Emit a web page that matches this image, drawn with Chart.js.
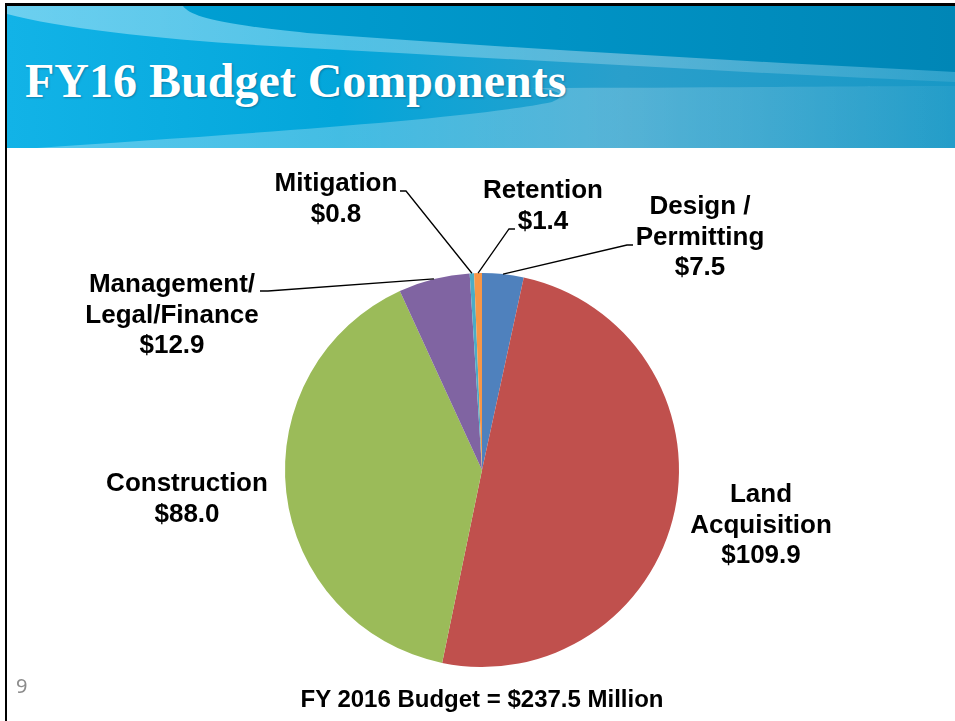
<!DOCTYPE html>
<html>
<head>
<meta charset="utf-8">
<script src="https://cdn.jsdelivr.net/npm/chart.js@4.4.1/dist/chart.umd.min.js"></script>
<style>
  html, body { margin: 0; padding: 0; background: #fff; }
  body { width: 955px; height: 721px; position: relative; overflow: hidden; }
  #frame { position: absolute; left: 5px; top: 3px; width: 960px; height: 730px;
           border-left: 2px solid #000; border-top: 3px solid #000; }
  #header { position: absolute; left: 7px; top: 6px; }
  #title { position: absolute; left: 25px; top: 57px; font: bold 48px "Liberation Serif", "Times New Roman", serif;
           color: #fff; line-height: 48px; white-space: nowrap; text-shadow: 1px 1px 2px rgba(0,40,70,0.35); }
  #chart { position: absolute; left: 0; top: 0; }
  #caption { position: absolute; left: 0; width: 964px; top: 687px; text-align: center;
             font: bold 24px "Liberation Sans", Arial, sans-serif; line-height: 24px; color: #000; }
  #pageNum { position: absolute; left: 16px; top: 676px; font: 20px "Noto Sans", sans-serif; line-height: 20px; color: #8b8b8b; }
</style>
</head>
<body>
<div id="frame"></div>
<svg id="header" width="948" height="142" viewBox="0 0 948 142">
  <defs>
    <linearGradient id="gBase" x1="0" y1="0" x2="1" y2="0">
      <stop offset="0" stop-color="#12b3e7"/>
      <stop offset="0.35" stop-color="#03a6da"/>
      <stop offset="0.65" stop-color="#2a9fcb"/>
      <stop offset="1" stop-color="#1898c6"/>
    </linearGradient>
    <linearGradient id="gTop" x1="0" y1="0" x2="1" y2="0">
      <stop offset="0" stop-color="#009fd3"/>
      <stop offset="1" stop-color="#0086b6"/>
    </linearGradient>
    <linearGradient id="gBand" x1="0" y1="0" x2="1" y2="0">
      <stop offset="0" stop-color="#ffffff" stop-opacity="0.38"/>
      <stop offset="0.5" stop-color="#ffffff" stop-opacity="0.28"/>
      <stop offset="1" stop-color="#ffffff" stop-opacity="0.10"/>
    </linearGradient>
    <linearGradient id="gLow" x1="0" y1="0" x2="1" y2="0">
      <stop offset="0" stop-color="#ffffff" stop-opacity="0.30"/>
      <stop offset="0.6" stop-color="#ffffff" stop-opacity="0.22"/>
      <stop offset="1" stop-color="#ffffff" stop-opacity="0.05"/>
    </linearGradient>
  </defs>
  <rect x="0" y="0" width="948" height="142" fill="url(#gBase)"/>
  <path d="M0,8 C60,24 180,36 300,42 C520,54 760,68 948,76 L948,0 L0,0 Z" fill="url(#gBand)"/>
  <path d="M176,0 C183,10 210,18 300,27 C500,42 750,56 948,66 L948,0 Z" fill="url(#gTop)"/>
  <path d="M30,142 C200,130 460,114 545,96 C560,90 556,84 525,82 C700,82 850,80 948,80 L948,142 Z" fill="url(#gLow)"/>
</svg>
<div id="title">FY16 Budget Components</div>
<canvas id="chart" width="955" height="721"></canvas>
<div id="caption">FY 2016 Budget = $237.5 Million</div>
<div id="pageNum">9</div>
<script>
"use strict";

// slice data, clockwise from 12 o'clock
const categories = ["Design / Permitting", "Land Acquisition", "Construction", "Management/ Legal/Finance", "Mitigation", "Retention"];
const labelLines = [["Design /", "Permitting"], ["Land", "Acquisition"], ["Construction"], ["Management/", "Legal/Finance"], ["Mitigation"], ["Retention"]];
const budgetValues = [7.5, 109.9, 88.0, 12.9, 0.8, 1.4];
const sliceColors = ["#4F81BD", "#C0504D", "#9BBB59", "#8064A2", "#4BACC6", "#F79646"];

// label placement (centre x, first line centre y) and leader start points
const labelPos = [
    { x: 700, y: 207, leader: [[633, 245], [627, 245]] },
    { x: 761, y: 495, leader: null },
    { x: 187, y: 484, leader: null },
    { x: 172, y: 285, leader: [[260, 291], [268, 291]] },
    { x: 336, y: 184, leader: [[400, 191], [406, 191]] },
    { x: 543, y: 191, leader: [[515, 229], [509, 229]] }
];
const lineGap = 30.5;

const money = v => "$" + v.toFixed(1);

const pieLabels = {
    id: "pieLabels",
    afterDraw(chart) {
        const ctx = chart.ctx;
        const arcs = chart.getDatasetMeta(0).data;
        ctx.save();
        // leader lines
        ctx.strokeStyle = "#000";
        ctx.lineWidth = 1.3;
        arcs.forEach((arc, i) => {
            const pos = labelPos[i];
            if (!pos.leader) return;
            const p = arc.getProps(["x", "y", "startAngle", "endAngle", "outerRadius"], true);
            const mid = (p.startAngle + p.endAngle) / 2;
            const ex = p.x + Math.cos(mid) * p.outerRadius;
            const ey = p.y + Math.sin(mid) * p.outerRadius;
            ctx.beginPath();
            ctx.moveTo(pos.leader[0][0], pos.leader[0][1]);
            ctx.lineTo(pos.leader[1][0], pos.leader[1][1]);
            ctx.lineTo(ex, ey);
            ctx.stroke();
        });
        // text
        ctx.fillStyle = "#000";
        ctx.font = 'bold 26px "Liberation Sans", Arial, sans-serif';
        ctx.textAlign = "center";
        ctx.textBaseline = "middle";
        labelLines.forEach((lines, i) => {
            const pos = labelPos[i];
            const all = lines.concat([money(budgetValues[i])]);
            all.forEach((t, k) => ctx.fillText(t, pos.x, pos.y + k * lineGap));
        });
        ctx.restore();
    }
};

new Chart(document.getElementById("chart"), {
    type: "pie",
    data: {
        labels: categories,
        datasets: [{
            data: budgetValues,
            backgroundColor: sliceColors,
            borderWidth: 0,
            hoverOffset: 0,
            offset: 0
        }]
    },
    options: {
        responsive: false,
        animation: false,
        layout: { padding: { left: 285, right: 276, top: 273, bottom: 54 } },
        plugins: { legend: { display: false }, tooltip: { enabled: false } }
    },
    plugins: [pieLabels]
});
</script>
</body>
</html>
